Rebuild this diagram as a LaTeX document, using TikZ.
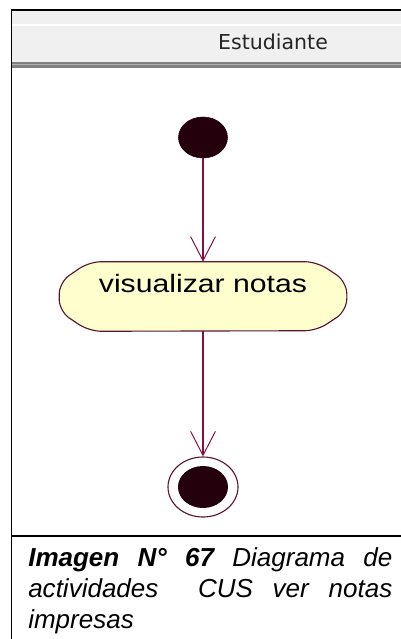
\documentclass[tikz,border=0pt]{standalone}
\usepackage{fontspec}
\setmainfont{Liberation Sans}
\newfontfamily\carrilfont{DejaVu Sans}
\newfontfamily\actfont[FakeStretch=1.2]{Liberation Sans}
\newcommand\leyendafont{\fontsize{18.5pt}{22pt}\selectfont\itshape}
\usetikzlibrary{arrows.meta, shapes.geometric, backgrounds}
\definecolor{flechaact}{RGB}{128,16,72}
\definecolor{bordeact}{RGB}{90,20,50}
\definecolor{rellenoact}{RGB}{255,255,206}
\definecolor{nodoini}{RGB}{35,0,12}
\definecolor{grisfranja}{RGB}{240,240,240}

\begin{document}
\begin{tikzpicture}[x=0.025cm, y=-0.025cm,
    flujo/.style={draw=flechaact, line width=0.8pt, -{Straight Barb[length=0.6cm, width=0.62cm, line width=0.7pt]}},
    inicio/.style={ellipse, fill=nodoini, draw=nodoini, minimum width=1.225cm, minimum height=1.025cm, inner sep=0},
    actividad/.style={rectangle, inner sep=0, minimum width=5.675cm, minimum height=1.725cm,
        text height=0.45cm, text depth=0.675cm, font=\actfont\fontsize{17.9}{20}\selectfont},
    fin/.style={ellipse, draw=bordeact, line width=0.8pt, minimum width=1.75cm, minimum height=1.5cm, inner sep=0},
    finpunto/.style={ellipse, fill=nodoini, minimum width=1.25cm, minimum height=1.05cm, inner sep=0},
    leyenda/.style={text width=9.1cm, align=justify, inner sep=0, font=\leyendafont}]
    \useasboundingbox (0,0) rectangle (401,639);
    \fill[grisfranja] (11,10) rectangle (401,62);
    \draw[white, line width=1pt] (12,25) -- (401,25);
    \fill[black!50] (12,62) rectangle (401,68);
    \draw[black!30, line width=0.6pt] (12,64.5) -- (401,64.5);
    \draw[line width=1.4pt] (401,10) -- (11.5,10) -- (11.5,639);
    \draw[line width=1.4pt] (11.5,536) -- (401,536);
    \node[font=\carrilfont\fontsize{14.6}{16}\selectfont, text=black!85] (carril) at (273,42) {Estudiante};

    \node[inicio] (ini) at (203,137.5) {};
    \node[actividad] (act) at (203,296.5) {visualizar notas};
    \begin{scope}[on background layer]
        \filldraw[fill=rellenoact, draw=bordeact, line width=0.8pt, rounded corners=0.3cm]
            (act.north west) -- (act.north east) -- ++(30,20) -- ++(0,29) -- ++(-30,20)
            -- (act.south west) -- ++(-30,-20) -- ++(0,-29) -- cycle;
    \end{scope}
    \node[fin] (fin) at (203,487) {};
    \node[finpunto] (finp) at (fin.center) {};
    \draw[flujo] (ini) -- (act);
    \draw[flujo] (act) -- (fin);

    \node[leyenda, anchor=north west] (leyenda) at (28,547)
        {\textbf{Imagen N° 67} Diagrama de\linebreak actividades\ \ CUS ver notas\linebreak impresas};
\end{tikzpicture}
\end{document}
